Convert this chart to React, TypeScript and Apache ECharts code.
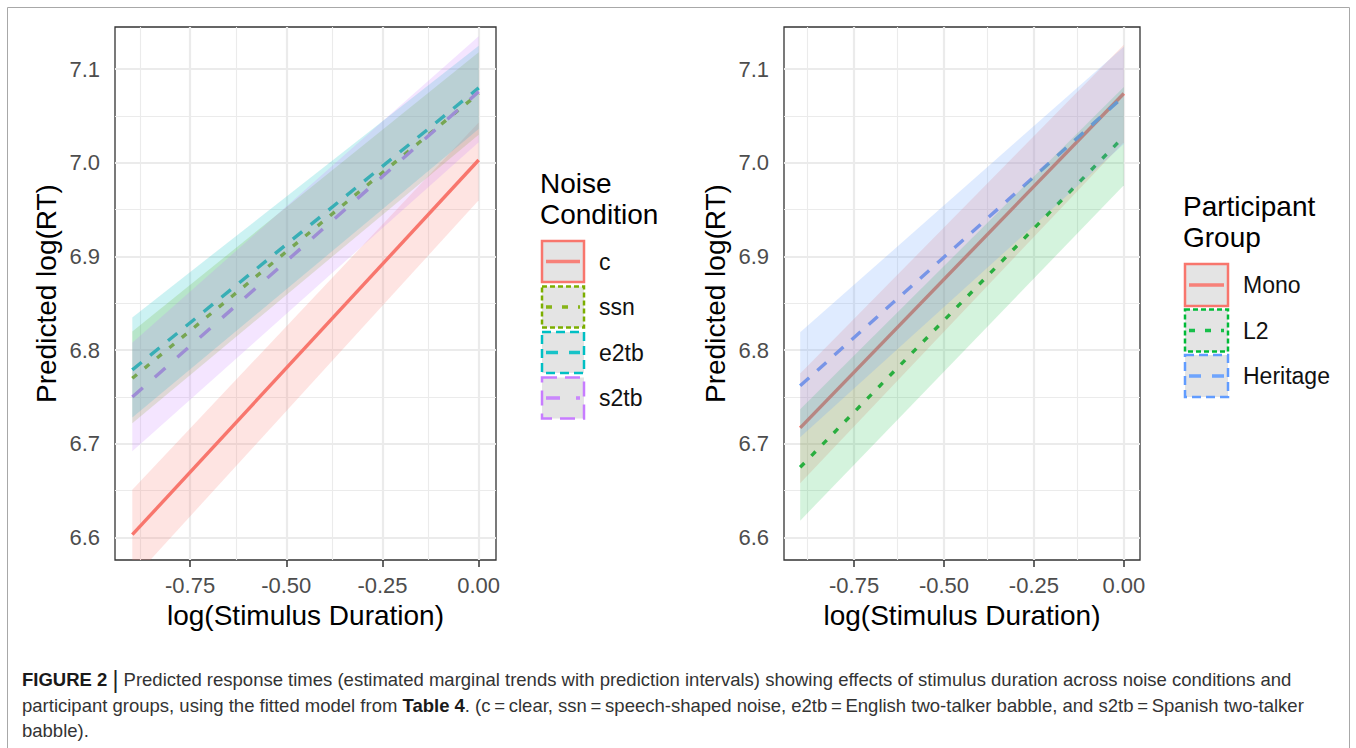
import React, { useEffect, useRef } from "react";
import * as echarts from "echarts";

// ---- axes ----
const xPoints = [-0.9, 0];
const xMin = -0.945;
const xMax = 0.045;
const yMin = 6.576;
const yMax = 7.145;
const xTicks = [-0.75, -0.5, -0.25, 0];
const xMinor = [-0.875, -0.625, -0.375, -0.125];
const yTicks = [6.6, 6.7, 6.8, 6.9, 7.0, 7.1];
const yMinor = [6.65, 6.75, 6.85, 6.95, 7.05];

// ---- left panel: noise condition ----
const noiseConditions = ["c", "ssn", "e2tb", "s2tb"];
const cMean = [6.603, 7.003];
const cLow = [6.555, 6.96];
const cHigh = [6.651, 7.043];
const ssnMean = [6.77, 7.074];
const ssnLow = [6.722, 7.03];
const ssnHigh = [6.82, 7.118];
const e2tbMean = [6.779, 7.08];
const e2tbLow = [6.728, 7.036];
const e2tbHigh = [6.835, 7.125];
const s2tbMean = [6.75, 7.076];
const s2tbLow = [6.692, 7.022];
const s2tbHigh = [6.808, 7.135];

// ---- right panel: participant group ----
const participantGroups = ["Mono", "L2", "Heritage"];
const monoMean = [6.717, 7.074];
const monoLow = [6.658, 7.022];
const monoHigh = [6.775, 7.126];
const l2Mean = [6.675, 7.028];
const l2Low = [6.618, 6.976];
const l2High = [6.737, 7.081];
const herMean = [6.762, 7.071];
const herLow = [6.707, 7.02];
const herHigh = [6.819, 7.124];

const FONT = "'Liberation Sans', Arial, Helvetica, sans-serif";

const DASH: Record<string, number[] | null> = {
  solid: null,
  dotted: [6, 10],
  dashed: [12, 11],
  longdash: [14, 16],
};
const KEY_DASH: Record<string, number[] | null> = {
  solid: null,
  dotted: [5, 3],
  dashed: [9, 5],
  longdash: [15, 8],
};

type Grp = {
  name: string;
  mean: number[];
  low: number[];
  high: number[];
  color: string;
  dash: string;
  alpha: number;
};

const leftGroups: Grp[] = [
  { name: noiseConditions[0], mean: cMean, low: cLow, high: cHigh, color: "#F8766D", dash: "solid", alpha: 0.2 },
  { name: noiseConditions[1], mean: ssnMean, low: ssnLow, high: ssnHigh, color: "#7CAE00", dash: "dotted", alpha: 0.2 },
  { name: noiseConditions[2], mean: e2tbMean, low: e2tbLow, high: e2tbHigh, color: "#00BFC4", dash: "dashed", alpha: 0.2 },
  { name: noiseConditions[3], mean: s2tbMean, low: s2tbLow, high: s2tbHigh, color: "#C77CFF", dash: "longdash", alpha: 0.2 },
];
const rightGroups: Grp[] = [
  { name: participantGroups[0], mean: monoMean, low: monoLow, high: monoHigh, color: "#F8766D", dash: "solid", alpha: 0.2 },
  { name: participantGroups[1], mean: l2Mean, low: l2Low, high: l2High, color: "#00BA38", dash: "dotted", alpha: 0.17 },
  { name: participantGroups[2], mean: herMean, low: herLow, high: herHigh, color: "#619CFF", dash: "dashed", alpha: 0.2 },
];

const zip = (ys: number[]) => xPoints.map((x, i) => [x, ys[i]]);

function rgba(hex: string, a: number) {
  const n = parseInt(hex.slice(1), 16);
  return `rgba(${(n >> 16) & 255},${(n >> 8) & 255},${n & 255},${a})`;
}

function groupSeries(g: Grp, idx: number) {
  return [
    {
      type: "custom",
      name: g.name + " interval",
      xAxisIndex: idx,
      yAxisIndex: idx,
      data: xPoints.map((x, i) => [x, g.low[i], g.high[i]]),
      encode: { x: 0, y: [1, 2] },
      clip: true,
      silent: true,
      z: 3,
      renderItem: (params: any, api: any) => {
        if (params.dataIndex !== 0) return null;
        const top = xPoints.map((x, i) => api.coord([x, g.high[i]]));
        const bot = xPoints.map((x, i) => api.coord([x, g.low[i]])).reverse();
        return {
          type: "polygon",
          shape: { points: [...top, ...bot] },
          style: { fill: rgba(g.color, g.alpha), stroke: "none" },
          silent: true,
        };
      },
    },
    {
      type: "line",
      name: g.name,
      xAxisIndex: idx,
      yAxisIndex: idx,
      data: zip(g.mean),
      symbol: "none",
      silent: true,
      lineStyle: {
        color: g.color,
        width: 3.4,
        type: DASH[g.dash] ? DASH[g.dash] : "solid",
        cap: "butt",
      },
      z: 2,
    },
  ];
}

function gridSeries(idx: number) {
  const mk = (axis: "xAxis" | "yAxis", v: number, major: boolean) => ({
    [axis]: v,
    lineStyle: { color: "#EBEBEB", width: major ? 2.2 : 1.1, type: "solid" },
  });
  return {
    type: "line",
    name: "grid" + idx,
    xAxisIndex: idx,
    yAxisIndex: idx,
    data: zip(cMean),
    symbol: "none",
    silent: true,
    lineStyle: { opacity: 0, width: 0 },
    z: 1,
    markLine: {
      silent: true,
      symbol: ["none", "none"],
      z: 1,
      label: { show: false },
      emphasis: { disabled: true },
      data: [
        ...xMinor.map((v) => mk("xAxis", v, false)),
        ...yMinor.map((v) => mk("yAxis", v, false)),
        ...xTicks.map((v) => mk("xAxis", v, true)),
        ...yTicks.map((v) => mk("yAxis", v, true)),
      ],
    },
  };
}

function xAxisCfg(gridIndex: number) {
  return {
    type: "value",
    gridIndex,
    min: xMin,
    max: xMax,
    name: "log(Stimulus Duration)",
    nameLocation: "middle",
    nameGap: 41,
    nameTextStyle: { fontSize: 28, color: "#000", fontFamily: FONT },
    axisLine: { show: false },
    axisTick: { show: true, customValues: xTicks, length: 7, lineStyle: { color: "#333", width: 1.5 } },
    axisLabel: {
      customValues: xTicks,
      formatter: (v: number) => v.toFixed(2),
      fontSize: 22,
      color: "#4D4D4D",
      margin: 14,
      fontFamily: FONT,
    },
    splitLine: { show: false },
  };
}

function yAxisCfg(gridIndex: number) {
  return {
    type: "value",
    gridIndex,
    min: yMin,
    max: yMax,
    name: "Predicted log(RT)",
    nameLocation: "middle",
    nameGap: 55,
    nameRotate: 90,
    nameTextStyle: { fontSize: 28, color: "#000", fontFamily: FONT },
    axisLine: { show: false },
    axisTick: { show: true, customValues: yTicks, length: 7, lineStyle: { color: "#333", width: 1.5 } },
    axisLabel: {
      customValues: yTicks,
      formatter: (v: number) => v.toFixed(1),
      fontSize: 22,
      color: "#4D4D4D",
      margin: 15,
      fontFamily: FONT,
    },
    splitLine: { show: false },
  };
}

function legendGraphics(title: string, groups: Grp[], x: number, titleY: number, keyY: number, keyW: number, keyH: number, step: number) {
  const els: any[] = [
    {
      type: "text",
      x,
      y: titleY,
      style: {
        text: title,
        fontSize: 28,
        fontFamily: FONT,
        fill: "#000",
        lineHeight: 31,
        verticalAlign: "top",
        align: "left",
      },
    },
  ];
  groups.forEach((g, i) => {
    const y = keyY + i * step;
    const kd = KEY_DASH[g.dash];
    const ld = DASH[g.dash];
    els.push({
      type: "rect",
      shape: { x: x + 2, y, width: keyW, height: keyH },
      style: { fill: "#E4E4E4", stroke: g.color, lineWidth: 2.5, lineDash: kd || undefined },
    });
    els.push({
      type: "line",
      shape: { x1: x + 6, y1: y + keyH / 2, x2: x + keyW - 2, y2: y + keyH / 2 },
      style: { stroke: g.color, lineWidth: 3.5, lineDash: ld || undefined, opacity: 0.9 },
    });
    els.push({
      type: "text",
      x: x + keyW + 17,
      y: y + keyH / 2,
      style: {
        text: g.name,
        fontSize: 23,
        fontFamily: FONT,
        fill: "#111",
        verticalAlign: "middle",
        align: "left",
      },
    });
  });
  return els;
}

const captionText =
  "{b|FIGURE 2} {bar||} Predicted response times (estimated marginal trends with prediction intervals) showing effects of stimulus duration across noise conditions and\n" +
  "participant groups, using the fitted model from {b|Table 4}. (c\u2009=\u2009clear, ssn\u2009=\u2009speech-shaped noise, e2tb\u2009=\u2009English two-talker babble, and s2tb\u2009=\u2009Spanish two-talker\n" +
  "babble).";

export default function App() {
  const ref = useRef<HTMLDivElement>(null);
  useEffect(() => {
    if (!ref.current) return;
    const chart = echarts.init(ref.current, null, { renderer: "svg" });
    const series: any[] = [
      gridSeries(0),
      gridSeries(1),
      ...leftGroups.flatMap((g) => groupSeries(g, 0)),
      ...rightGroups.flatMap((g) => groupSeries(g, 1)),
    ];
    const option: any = {
      animation: false,
      backgroundColor: "#fff",
      textStyle: { fontFamily: FONT },
      grid: [
        { left: 115, top: 27, width: 381, height: 533, show: true, borderColor: "#333", borderWidth: 1.3, backgroundColor: "transparent", containLabel: false, outerBoundsMode: "none" },
        { left: 784, top: 27, width: 356, height: 533, show: true, borderColor: "#333", borderWidth: 1.3, backgroundColor: "transparent", containLabel: false, outerBoundsMode: "none" },
      ],
      xAxis: [xAxisCfg(0), xAxisCfg(1)],
      yAxis: [yAxisCfg(0), yAxisCfg(1)],
      series,
      graphic: [
        {
          type: "rect",
          shape: { x: 7.5, y: 7.5, width: 1342, height: 760 },
          style: { fill: "none", stroke: "#A8A8A8", lineWidth: 1 },
          silent: true,
        },
        ...legendGraphics("Noise\nCondition", leftGroups, 540, 168, 241, 42, 41, 45.5),
        ...legendGraphics("Participant\nGroup", rightGroups, 1183, 191, 264, 43, 42, 45.5),
        {
          type: "text",
          x: 22,
          y: 667,
          style: {
            text: captionText,
            fontSize: 18.5,
            fontFamily: FONT,
            fill: "#333",
            lineHeight: 25.5,
            verticalAlign: "top",
            align: "left",
            rich: {
              b: { fontWeight: "bold", fontSize: 18.5, fill: "#1a1a1a", lineHeight: 25.5, fontFamily: FONT },
              bar: { fontSize: 23, fill: "#222", lineHeight: 25.5, fontFamily: FONT },
            },
          },
        },
      ],
    };
    chart.setOption(option);
    return () => chart.dispose();
  }, []);
  return (
    <div
      ref={ref}
      style={{ position: "fixed", left: 0, top: 0, width: 1356, height: 748, background: "#fff" }}
    />
  );
}
